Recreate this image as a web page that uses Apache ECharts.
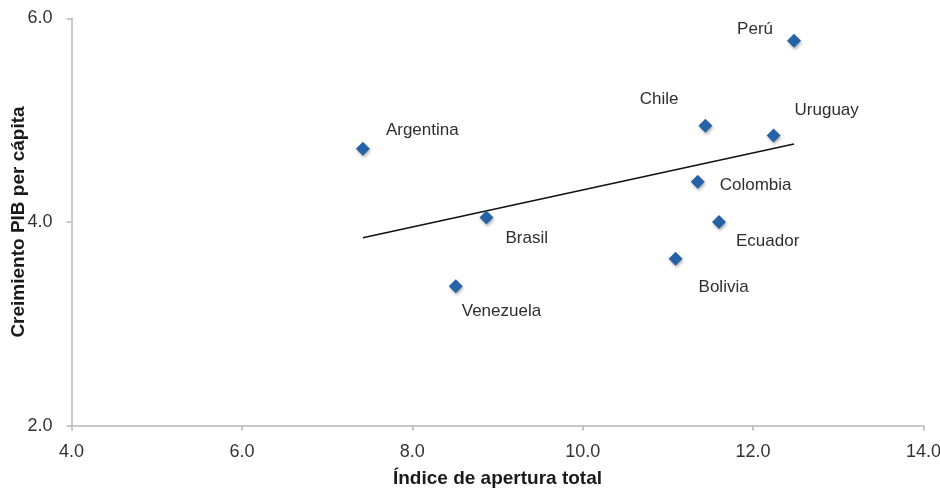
<!DOCTYPE html>
<html>
<head>
<meta charset="utf-8">
<script src="https://cdn.jsdelivr.net/npm/echarts@6/dist/echarts.min.js"></script>
<style>html,body{margin:0;padding:0;background:#fff}#c{width:940px;height:489px}</style>
</head>
<body>
<div id="c"></div>
<script>
const countries = ['Perú','Chile','Uruguay','Argentina','Colombia','Brasil','Ecuador','Bolivia','Venezuela'];
const apertura = [12.48, 11.44, 12.24, 7.42, 11.35, 8.87, 11.60, 11.09, 8.51];
const crecimiento = [5.78, 4.945, 4.85, 4.72, 4.395, 4.045, 4.00, 3.64, 3.37];
const xTicks = [4, 6, 8, 10, 12, 14];
const yTicks = [2, 4, 6];

// label placement (styling only)
const labelStyle = {
  'Perú':      {align:'right', off:[-21,-11]},
  'Chile':     {align:'right', off:[-27,-26]},
  'Uruguay':   {align:'left',  off:[21,-25]},
  'Argentina': {align:'left',  off:[23,-18]},
  'Colombia':  {align:'left',  off:[22,4]},
  'Brasil':    {align:'left',  off:[19,21]},
  'Ecuador':   {align:'left',  off:[17,19]},
  'Bolivia':   {align:'left',  off:[23,29]},
  'Venezuela': {align:'left',  off:[6,25]}
};

// linear trendline (least squares) over data range
const n = apertura.length;
const mx = apertura.reduce((a,b)=>a+b,0)/n;
const my = crecimiento.reduce((a,b)=>a+b,0)/n;
let sxy=0, sxx=0;
for (let i=0;i<n;i++){ sxy+=(apertura[i]-mx)*(crecimiento[i]-my); sxx+=(apertura[i]-mx)**2; }
const slope = sxy/sxx, icpt = my - slope*mx;
const xmin = Math.min(...apertura), xmax = Math.max(...apertura);
const trend = [[xmin, icpt+slope*xmin],[xmax, icpt+slope*xmax]];

const pts = countries.map((c,i)=>{
  const s = labelStyle[c];
  return {
    name: c,
    value: [apertura[i], crecimiento[i]],
    label: {show:true, formatter: c, position:'inside', align:s.align, verticalAlign:'middle', offset:s.off}
  };
});

const font = 'Liberation Sans, Arial, Helvetica, sans-serif';
const chart = echarts.init(document.getElementById('c'));
chart.setOption({
  animation:false,
  grid:{left:71.5, right:16.5, top:18.3, bottom:63.3, containLabel:false, outerBoundsMode:'none'},
  xAxis:{
    type:'value', min:xTicks[0], max:xTicks[xTicks.length-1], interval:2,
    name:'Índice de apertura total', nameLocation:'middle', nameGap:44, nameMoveOverlap:false,
    nameTextStyle:{fontFamily:font, fontSize:19, fontWeight:'bold', color:'#1a1a1a'},
    axisLine:{show:true, lineStyle:{color:'#b8b8b8', width:1.5}},
    axisTick:{show:true, inside:false, length:5, lineStyle:{color:'#b8b8b8', width:1.5}},
    axisLabel:{formatter:v=>v.toFixed(1), fontFamily:font, fontSize:18, color:'#333', margin:17},
    splitLine:{show:false}
  },
  yAxis:{
    type:'value', min:yTicks[0], max:yTicks[yTicks.length-1], interval:2,
    name:'Creimiento PIB per cápita', nameLocation:'middle', nameGap:43, nameRotate:90, nameMoveOverlap:false,
    nameTextStyle:{fontFamily:font, fontSize:19, fontWeight:'bold', color:'#1a1a1a'},
    axisLine:{show:true, lineStyle:{color:'#b8b8b8', width:1.5}},
    axisTick:{show:true, inside:false, length:5, lineStyle:{color:'#b8b8b8', width:1.5}},
    axisLabel:{formatter:v=>v.toFixed(1), fontFamily:font, fontSize:18, color:'#333', margin:19},
    splitLine:{show:false}
  },
  series:[
    {
      type:'line', data:trend, symbol:'none', silent:true,
      lineStyle:{color:'#111', width:1.5}, z:1
    },
    {
      type:'scatter', data:pts, symbol:'diamond', symbolSize:14,
      itemStyle:{color:'#2563a6', opacity:1, shadowColor:'rgba(0,0,0,0.3)', shadowBlur:3, shadowOffsetX:1, shadowOffsetY:2},
      label:{fontFamily:font, fontSize:17, color:'#2e2e2e'},
      z:2
    }
  ]
});
</script>
</body>
</html>
